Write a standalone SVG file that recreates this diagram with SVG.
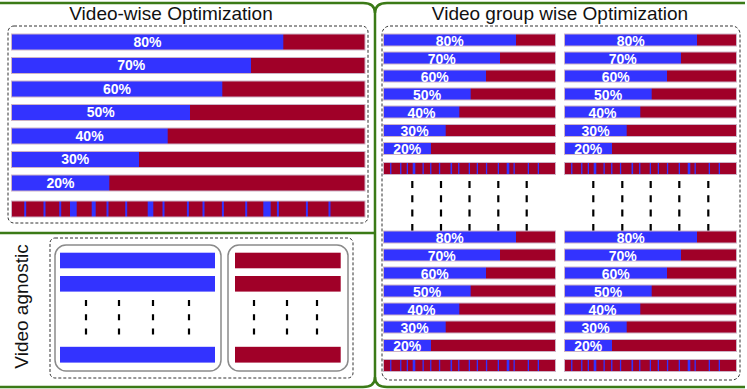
<svg xmlns="http://www.w3.org/2000/svg" xmlns:xlink="http://www.w3.org/1999/xlink" width="747" height="389" viewBox="0 0 747 389">
<style>
.b{fill:#3333ff}
.r{fill:#a00028}
.ol{fill:none;stroke:#cdb3c6;stroke-width:1}
.pl{font-family:"Liberation Sans",Arial,sans-serif;font-weight:bold;font-size:14px;fill:#ffffff;text-anchor:middle}
.tt{font-family:"Liberation Sans",Arial,sans-serif;font-size:19px;fill:#111111;text-anchor:middle}
.dbox{fill:none;stroke:#333333;stroke-width:1;stroke-dasharray:3 2}
.gbox{fill:none;stroke:#8a8a8a;stroke-width:1.5}
.dash{stroke:#000000;stroke-width:2.2}
.frame{fill:none;stroke:#3b7a17;stroke-width:2.5}
</style>
<defs>
<g id="stripeS">
<rect class="r" x="0" y="0" width="172" height="12"/>
<rect class="b" x="6.6" y="0" width="1.3" height="12"/>
<rect class="b" x="16.6" y="0" width="1.3" height="12"/>
<rect class="b" x="23.2" y="0" width="1.3" height="12"/>
<rect class="b" x="29.2" y="0" width="2.6" height="12"/>
<rect class="b" x="39" y="0" width="1.3" height="12"/>
<rect class="b" x="46.6" y="0" width="1.3" height="12"/>
<rect class="b" x="55.4" y="0" width="1.3" height="12"/>
<rect class="b" x="67" y="0" width="1.6" height="12"/>
<rect class="b" x="74.6" y="0" width="1.3" height="12"/>
<rect class="b" x="85.2" y="0" width="1.3" height="12"/>
<rect class="b" x="93.2" y="0" width="1.3" height="12"/>
<rect class="b" x="102.4" y="0" width="1.3" height="12"/>
<rect class="b" x="114.2" y="0" width="1.3" height="12"/>
<rect class="b" x="123.2" y="0" width="2.6" height="12"/>
<rect class="b" x="130" y="0" width="1.3" height="12"/>
<rect class="b" x="144.2" y="0" width="1.3" height="12"/>
<rect class="b" x="154.2" y="0" width="1.3" height="12"/>
<rect class="ol" x="0" y="0" width="172" height="12"/>
</g>
</defs>

<g id="frame">
<path class="frame" d="M0,3 H363 Q375,3 375,13 V377 Q375,387 363,387 H0"/>
<path class="frame" d="M745,3 H387 Q375,3 375,13 M375,377 Q375,387 387,387 H745"/>
<path class="frame" d="M0,233 H375"/>
</g>

<g id="video-wise">
<text class="tt" x="171" y="20">Video-wise Optimization</text>
<rect class="dbox" x="8" y="26" width="360" height="197" rx="6"/>
<g id="vw-bars">
<rect class="r" x="11.5" y="34" width="353.5" height="16"/><rect class="b" x="11.5" y="34" width="271.8" height="16"/><rect class="ol" x="11.5" y="34" width="353.5" height="16"/>
<text class="pl" x="147.4" y="46.7">80%</text>
<rect class="r" x="11.5" y="57.5" width="353.5" height="16"/><rect class="b" x="11.5" y="57.5" width="239.5" height="16"/><rect class="ol" x="11.5" y="57.5" width="353.5" height="16"/>
<text class="pl" x="131.2" y="70.2">70%</text>
<rect class="r" x="11.5" y="81" width="353.5" height="16"/><rect class="b" x="11.5" y="81" width="210.8" height="16"/><rect class="ol" x="11.5" y="81" width="353.5" height="16"/>
<text class="pl" x="116.9" y="93.7">60%</text>
<rect class="r" x="11.5" y="104.5" width="353.5" height="16"/><rect class="b" x="11.5" y="104.5" width="178.5" height="16"/><rect class="ol" x="11.5" y="104.5" width="353.5" height="16"/>
<text class="pl" x="100.7" y="117.2">50%</text>
<rect class="r" x="11.5" y="128" width="353.5" height="16"/><rect class="b" x="11.5" y="128" width="156.2" height="16"/><rect class="ol" x="11.5" y="128" width="353.5" height="16"/>
<text class="pl" x="89.6" y="140.7">40%</text>
<rect class="r" x="11.5" y="151.5" width="353.5" height="16"/><rect class="b" x="11.5" y="151.5" width="127.5" height="16"/><rect class="ol" x="11.5" y="151.5" width="353.5" height="16"/>
<text class="pl" x="75.2" y="164.2">30%</text>
<rect class="r" x="11.5" y="175" width="353.5" height="16"/><rect class="b" x="11.5" y="175" width="97.8" height="16"/><rect class="ol" x="11.5" y="175" width="353.5" height="16"/>
<text class="pl" x="60.4" y="187.7">20%</text>
</g>
<g id="vw-stripe">
<rect class="r" x="11.5" y="201" width="353.5" height="16"/>
<rect class="b" x="24.2" y="201" width="2" height="16"/>
<rect class="b" x="43.5" y="201" width="2" height="16"/>
<rect class="b" x="59.2" y="201" width="2" height="16"/>
<rect class="b" x="70" y="201" width="6.7" height="16"/>
<rect class="b" x="91.7" y="201" width="4" height="16"/>
<rect class="b" x="106.5" y="201" width="2" height="16"/>
<rect class="b" x="125.2" y="201" width="2" height="16"/>
<rect class="b" x="147.7" y="201" width="5.6" height="16"/>
<rect class="b" x="162.5" y="201" width="2" height="16"/>
<rect class="b" x="186.9" y="201" width="2" height="16"/>
<rect class="b" x="202.5" y="201" width="2" height="16"/>
<rect class="b" x="221.9" y="201" width="2" height="16"/>
<rect class="b" x="245.2" y="201" width="2" height="16"/>
<rect class="b" x="263.3" y="201" width="7.4" height="16"/>
<rect class="b" x="276.9" y="201" width="2" height="16"/>
<rect class="b" x="305.9" y="201" width="2" height="16"/>
<rect class="b" x="328.5" y="201" width="2" height="16"/>
<rect class="ol" x="11.5" y="201" width="353.5" height="16"/>
</g>
</g>

<g id="video-agnostic">
<text class="tt" transform="translate(28,306.5) rotate(-90)">Video agnostic</text>
<rect class="dbox" x="50" y="238" width="303" height="140" rx="5"/>
<g id="agn-blue">
<rect class="gbox" x="55" y="245" width="166" height="126" rx="11"/>
<rect class="b" x="60" y="252.7" width="155" height="15.6"/>
<rect class="b" x="60" y="276" width="155" height="15.6"/>
<rect class="b" x="60" y="346.8" width="155" height="15.8"/>
<line class="dash" x1="86" y1="300" x2="86" y2="335" stroke-dasharray="6 8.3"/>
<line class="dash" x1="119" y1="300" x2="119" y2="335" stroke-dasharray="6 8.3"/>
<line class="dash" x1="153" y1="300" x2="153" y2="335" stroke-dasharray="6 8.3"/>
<line class="dash" x1="189" y1="300" x2="189" y2="335" stroke-dasharray="6 8.3"/>
</g>
<g id="agn-red">
<rect class="gbox" x="228" y="245" width="120" height="126" rx="11"/>
<rect class="r" x="235" y="252.7" width="105.7" height="15.6"/>
<rect class="r" x="235" y="276" width="105.7" height="15.6"/>
<rect class="r" x="235" y="346.8" width="105.7" height="15.8"/>
<line class="dash" x1="254" y1="300" x2="254" y2="335" stroke-dasharray="6 8.3"/>
<line class="dash" x1="287" y1="300" x2="287" y2="335" stroke-dasharray="6 8.3"/>
<line class="dash" x1="317" y1="300" x2="317" y2="335" stroke-dasharray="6 8.3"/>
</g>
</g>

<g id="group-wise">
<text class="tt" x="560" y="20">Video group wise Optimization</text>
<rect class="dbox" x="382" y="26" width="358" height="354" rx="8"/>

<g id="g-top-left">
<rect class="r" x="383.5" y="34" width="172" height="12"/><rect class="b" x="383.5" y="34" width="132.5" height="12"/><rect class="ol" x="383.5" y="34" width="172" height="12"/>
<text class="pl" x="449.8" y="45.5">80%</text>
<rect class="r" x="383.5" y="52" width="172" height="12"/><rect class="b" x="383.5" y="52" width="116.5" height="12"/><rect class="ol" x="383.5" y="52" width="172" height="12"/>
<text class="pl" x="441.8" y="63.5">70%</text>
<rect class="r" x="383.5" y="70" width="172" height="12"/><rect class="b" x="383.5" y="70" width="102.5" height="12"/><rect class="ol" x="383.5" y="70" width="172" height="12"/>
<text class="pl" x="434.8" y="81.5">60%</text>
<rect class="r" x="383.5" y="88" width="172" height="12"/><rect class="b" x="383.5" y="88" width="87.2" height="12"/><rect class="ol" x="383.5" y="88" width="172" height="12"/>
<text class="pl" x="427.1" y="99.5">50%</text>
<rect class="r" x="383.5" y="106" width="172" height="12"/><rect class="b" x="383.5" y="106" width="75.8" height="12"/><rect class="ol" x="383.5" y="106" width="172" height="12"/>
<text class="pl" x="421.4" y="117.5">40%</text>
<rect class="r" x="383.5" y="124.5" width="172" height="12"/><rect class="b" x="383.5" y="124.5" width="62.2" height="12"/><rect class="ol" x="383.5" y="124.5" width="172" height="12"/>
<text class="pl" x="414.6" y="136">30%</text>
<rect class="r" x="383.5" y="142.5" width="172" height="12"/><rect class="b" x="383.5" y="142.5" width="47.5" height="12"/><rect class="ol" x="383.5" y="142.5" width="172" height="12"/>
<text class="pl" x="407.2" y="154">20%</text>
<use xlink:href="#stripeS" href="#stripeS" x="383.5" y="162.5"/>
</g>

<g id="g-top-right">
<rect class="r" x="564.5" y="34" width="172" height="12"/><rect class="b" x="564.5" y="34" width="132.5" height="12"/><rect class="ol" x="564.5" y="34" width="172" height="12"/>
<text class="pl" x="630.8" y="45.5">80%</text>
<rect class="r" x="564.5" y="52" width="172" height="12"/><rect class="b" x="564.5" y="52" width="116.5" height="12"/><rect class="ol" x="564.5" y="52" width="172" height="12"/>
<text class="pl" x="622.8" y="63.5">70%</text>
<rect class="r" x="564.5" y="70" width="172" height="12"/><rect class="b" x="564.5" y="70" width="102.5" height="12"/><rect class="ol" x="564.5" y="70" width="172" height="12"/>
<text class="pl" x="615.8" y="81.5">60%</text>
<rect class="r" x="564.5" y="88" width="172" height="12"/><rect class="b" x="564.5" y="88" width="87.2" height="12"/><rect class="ol" x="564.5" y="88" width="172" height="12"/>
<text class="pl" x="608.1" y="99.5">50%</text>
<rect class="r" x="564.5" y="106" width="172" height="12"/><rect class="b" x="564.5" y="106" width="75.8" height="12"/><rect class="ol" x="564.5" y="106" width="172" height="12"/>
<text class="pl" x="602.4" y="117.5">40%</text>
<rect class="r" x="564.5" y="124.5" width="172" height="12"/><rect class="b" x="564.5" y="124.5" width="62.2" height="12"/><rect class="ol" x="564.5" y="124.5" width="172" height="12"/>
<text class="pl" x="595.6" y="136">30%</text>
<rect class="r" x="564.5" y="142.5" width="172" height="12"/><rect class="b" x="564.5" y="142.5" width="47.5" height="12"/><rect class="ol" x="564.5" y="142.5" width="172" height="12"/>
<text class="pl" x="588.2" y="154">20%</text>
<use xlink:href="#stripeS" href="#stripeS" x="564.5" y="162.5"/>
</g>

<g id="g-dashes">
<line class="dash" x1="412.3" y1="181" x2="412.3" y2="231" stroke-dasharray="7 7.3"/>
<line class="dash" x1="441" y1="181" x2="441" y2="231" stroke-dasharray="7 7.3"/>
<line class="dash" x1="469.5" y1="181" x2="469.5" y2="231" stroke-dasharray="7 7.3"/>
<line class="dash" x1="498.3" y1="181" x2="498.3" y2="231" stroke-dasharray="7 7.3"/>
<line class="dash" x1="526.7" y1="181" x2="526.7" y2="231" stroke-dasharray="7 7.3"/>
<line class="dash" x1="593.3" y1="181" x2="593.3" y2="231" stroke-dasharray="7 7.3"/>
<line class="dash" x1="622.3" y1="181" x2="622.3" y2="231" stroke-dasharray="7 7.3"/>
<line class="dash" x1="650.7" y1="181" x2="650.7" y2="231" stroke-dasharray="7 7.3"/>
<line class="dash" x1="679.3" y1="181" x2="679.3" y2="231" stroke-dasharray="7 7.3"/>
<line class="dash" x1="708.3" y1="181" x2="708.3" y2="231" stroke-dasharray="7 7.3"/>
</g>

<g id="g-bottom-left">
<rect class="r" x="383.5" y="231" width="172" height="12"/><rect class="b" x="383.5" y="231" width="132.5" height="12"/><rect class="ol" x="383.5" y="231" width="172" height="12"/>
<text class="pl" x="449.8" y="242.5">80%</text>
<rect class="r" x="383.5" y="249" width="172" height="12"/><rect class="b" x="383.5" y="249" width="116.5" height="12"/><rect class="ol" x="383.5" y="249" width="172" height="12"/>
<text class="pl" x="441.8" y="260.5">70%</text>
<rect class="r" x="383.5" y="267" width="172" height="12"/><rect class="b" x="383.5" y="267" width="102.5" height="12"/><rect class="ol" x="383.5" y="267" width="172" height="12"/>
<text class="pl" x="434.8" y="278.5">60%</text>
<rect class="r" x="383.5" y="285" width="172" height="12"/><rect class="b" x="383.5" y="285" width="87.2" height="12"/><rect class="ol" x="383.5" y="285" width="172" height="12"/>
<text class="pl" x="427.1" y="296.5">50%</text>
<rect class="r" x="383.5" y="303" width="172" height="12"/><rect class="b" x="383.5" y="303" width="75.8" height="12"/><rect class="ol" x="383.5" y="303" width="172" height="12"/>
<text class="pl" x="421.4" y="314.5">40%</text>
<rect class="r" x="383.5" y="321" width="172" height="12"/><rect class="b" x="383.5" y="321" width="62.2" height="12"/><rect class="ol" x="383.5" y="321" width="172" height="12"/>
<text class="pl" x="414.6" y="332.5">30%</text>
<rect class="r" x="383.5" y="339.5" width="172" height="12"/><rect class="b" x="383.5" y="339.5" width="47.5" height="12"/><rect class="ol" x="383.5" y="339.5" width="172" height="12"/>
<text class="pl" x="407.2" y="351">20%</text>
<use xlink:href="#stripeS" href="#stripeS" x="383.5" y="359.5"/>
</g>

<g id="g-bottom-right">
<rect class="r" x="564.5" y="231" width="172" height="12"/><rect class="b" x="564.5" y="231" width="132.5" height="12"/><rect class="ol" x="564.5" y="231" width="172" height="12"/>
<text class="pl" x="630.8" y="242.5">80%</text>
<rect class="r" x="564.5" y="249" width="172" height="12"/><rect class="b" x="564.5" y="249" width="116.5" height="12"/><rect class="ol" x="564.5" y="249" width="172" height="12"/>
<text class="pl" x="622.8" y="260.5">70%</text>
<rect class="r" x="564.5" y="267" width="172" height="12"/><rect class="b" x="564.5" y="267" width="102.5" height="12"/><rect class="ol" x="564.5" y="267" width="172" height="12"/>
<text class="pl" x="615.8" y="278.5">60%</text>
<rect class="r" x="564.5" y="285" width="172" height="12"/><rect class="b" x="564.5" y="285" width="87.2" height="12"/><rect class="ol" x="564.5" y="285" width="172" height="12"/>
<text class="pl" x="608.1" y="296.5">50%</text>
<rect class="r" x="564.5" y="303" width="172" height="12"/><rect class="b" x="564.5" y="303" width="75.8" height="12"/><rect class="ol" x="564.5" y="303" width="172" height="12"/>
<text class="pl" x="602.4" y="314.5">40%</text>
<rect class="r" x="564.5" y="321" width="172" height="12"/><rect class="b" x="564.5" y="321" width="62.2" height="12"/><rect class="ol" x="564.5" y="321" width="172" height="12"/>
<text class="pl" x="595.6" y="332.5">30%</text>
<rect class="r" x="564.5" y="339.5" width="172" height="12"/><rect class="b" x="564.5" y="339.5" width="47.5" height="12"/><rect class="ol" x="564.5" y="339.5" width="172" height="12"/>
<text class="pl" x="588.2" y="351">20%</text>
<use xlink:href="#stripeS" href="#stripeS" x="564.5" y="359.5"/>
</g>
</g>
</svg>
